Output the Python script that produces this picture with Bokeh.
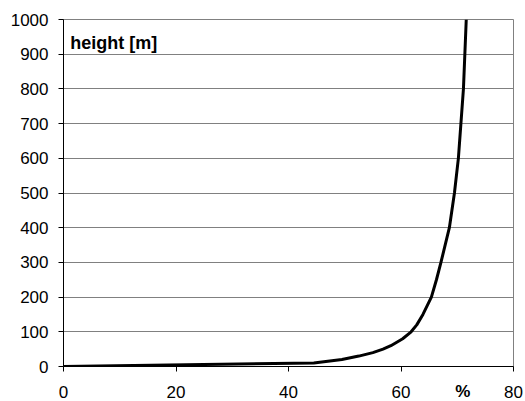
from bokeh.plotting import figure
from bokeh.models import FixedTicker, Label, Range1d, LinearAxis
from bokeh.embed import file_html
from bokeh.resources import INLINE

# Data
height_m = [0, 10, 20, 30, 40, 50, 60, 80, 100, 120, 150, 200, 250, 300, 400, 500, 600, 800, 1000]
percent = [0, 44.5, 49.5, 52.5, 55.0, 56.8, 58.2, 60.3, 61.8, 62.8, 63.9, 65.4, 66.3, 67.1, 68.6, 69.5, 70.2, 71.1, 71.6]
x_ticks = [0, 20, 40, 60, 80]
y_ticks = [0, 100, 200, 300, 400, 500, 600, 700, 800, 900, 1000]
y_label = "height [m]"
x_label = "%"
x_label_pos = 71

FONT = "Liberation Sans"

p = figure(frame_width=450, frame_height=347, output_backend="svg", toolbar_location=None,
           x_range=Range1d(0, 80), y_range=Range1d(0, 1000),
           min_border_left=63, min_border_top=19, min_border_right=11, min_border_bottom=10)
p.background_fill_color = "white"
p.border_fill_color = "white"
p.outline_line_color = "#808080"
p.outline_line_width = 1

p.line(percent, height_m, line_color="black", line_width=3)

p.xgrid.visible = False
p.ygrid.ticker = FixedTicker(ticks=y_ticks)
p.ygrid.grid_line_color = "#808080"
p.ygrid.grid_line_width = 1

for ax, ticks in ((p.xaxis[0], x_ticks), (p.yaxis[0], y_ticks)):
    ax.ticker = FixedTicker(ticks=ticks)
    ax.axis_line_color = "black"
    ax.axis_line_width = 1
    ax.major_tick_line_color = "black"
    ax.major_tick_out = 5
    ax.major_tick_in = 0
    ax.minor_tick_line_color = None
    ax.major_label_text_font = FONT
    ax.major_label_text_font_size = "17px"
    ax.major_label_text_color = "black"

p.yaxis[0].major_label_standoff = 10
p.xaxis[0].major_label_standoff = 14

def label_only_axis(text, size, style, standoff):
    ax = LinearAxis(ticker=FixedTicker(ticks=[x_label_pos]),
                    major_label_overrides={x_label_pos: text})
    ax.axis_line_color = None
    ax.major_tick_line_color = None
    ax.major_tick_out = 0
    ax.major_tick_in = 0
    ax.minor_tick_line_color = None
    ax.major_label_text_font = FONT
    ax.major_label_text_font_size = size
    ax.major_label_text_font_style = style
    ax.major_label_text_color = "black"
    ax.major_label_standoff = standoff
    return ax

# bold "%" in the tick-label row
p.add_layout(label_only_axis(x_label, "17px", "bold", -19), "below")
# empty spacer axis that takes back a few pixels of bottom border
p.add_layout(label_only_axis(" ", "17px", "normal", -22), "below")

p.add_layout(Label(x=1.2, y=931, text=y_label, text_font=FONT, text_font_size="18px",
                   text_font_style="bold", text_color="black", text_baseline="alphabetic",
                   text_align="left"))

open("out.html", "w").write(file_html(p, INLINE))
